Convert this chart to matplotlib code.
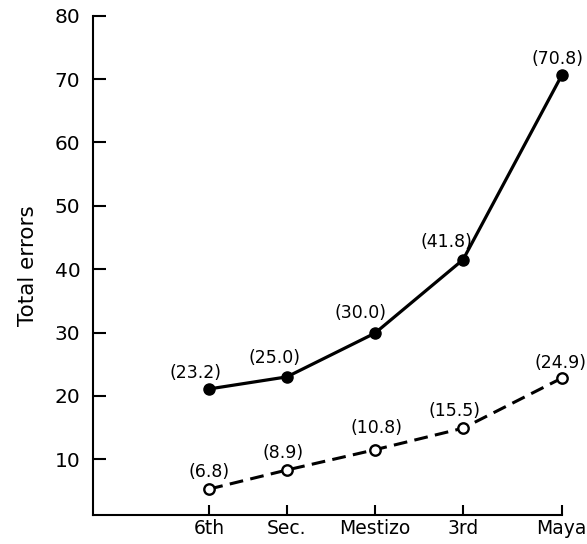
import matplotlib.pyplot as plt

# groups, placed along the axis at their (unequal) printed spacing
groups = ["6th", "Sec.", "Mestizo", "3rd", "Maya"]
group_x = [0.0, 0.88, 1.88, 2.88, 4.0]

# plotted heights and the printed values beside them
upper_y = [21.1, 23.0, 29.9, 41.5, 70.6]
upper_labels = ["(23.2)", "(25.0)", "(30.0)", "(41.8)", "(70.8)"]
lower_y = [5.3, 8.3, 11.5, 14.9, 22.8]
lower_labels = ["(6.8)", "(8.9)", "(10.8)", "(15.5)", "(24.9)"]

y_ticks = [10, 20, 30, 40, 50, 60, 70, 80]

plt.rcParams['font.family'] = ['DejaVu Sans']

fig = plt.figure(figsize=(5.87, 5.44), dpi=100)
ax = fig.add_axes([0.1584, 0.0533, 0.957 - 0.1584, 0.9711 - 0.0533])

# solid line with filled circles
ax.plot(group_x, upper_y, color='black', lw=2.3, marker='o', ms=8,
        mfc='black', mec='black', clip_on=False, zorder=3)
# dashed line with open circles
ax.plot(group_x, lower_y, color='black', lw=2.2, ls=(0, (4.5, 2.4)), marker='o', ms=7.5,
        mfc='white', mec='black', mew=1.7, clip_on=False, zorder=3)

# value labels, nudged the way they sit in the figure
upper_off = [(-14, 16), (-12, 19), (-14, 20), (-17, 18), (-4, 16)]
lower_off = [(0, 17), (-4, 17), (2, 22), (-9, 17), (-1, 15)]
for x, y, lab, off in zip(group_x, upper_y, upper_labels, upper_off):
    ax.annotate(lab, (x, y), xytext=off, textcoords='offset pixels',
                ha='center', va='center', fontsize=12.5)
for x, y, lab, off in zip(group_x, lower_y, lower_labels, lower_off):
    ax.annotate(lab, (x, y), xytext=off, textcoords='offset pixels',
                ha='center', va='center', fontsize=12.5)

ax.set_xlim(-1.32, 4.0)
ax.set_ylim(1.2, 80)
ax.set_xticks(group_x)
ax.set_xticklabels(groups, fontsize=13.5)
ax.set_yticks(y_ticks)
ax.set_yticklabels([str(t) for t in y_ticks], fontsize=14.5)
ax.set_ylabel("Total errors", fontsize=15.5, labelpad=12)

ax.spines['top'].set_visible(False)
ax.spines['right'].set_visible(False)
ax.spines['left'].set_linewidth(1.5)
ax.spines['bottom'].set_linewidth(1.5)
ax.tick_params(axis='y', direction='in', length=9.5, width=1.5, pad=9)
ax.tick_params(axis='x', direction='in', length=7, width=1.5, pad=3)

fig.savefig("out.png", dpi=100)
